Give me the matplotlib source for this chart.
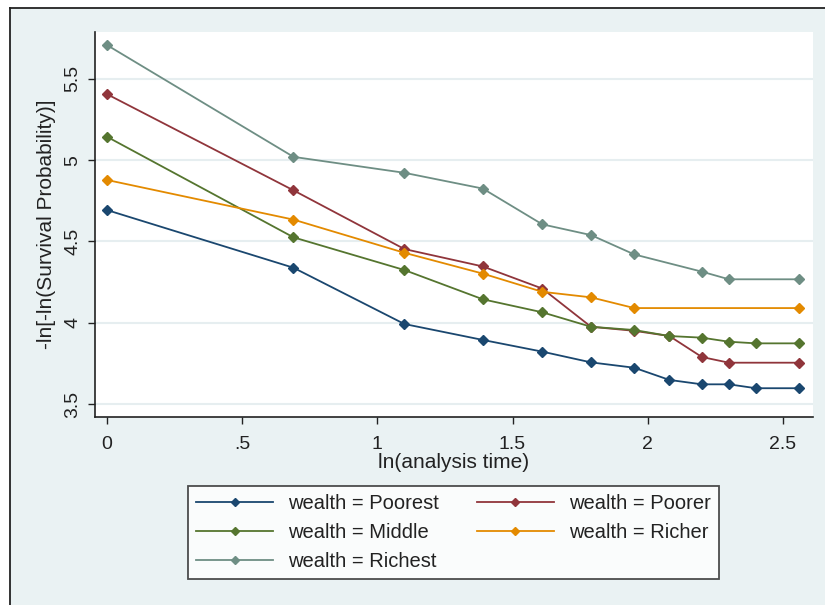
import matplotlib
matplotlib.use("Agg")
import matplotlib.pyplot as plt
from matplotlib.patches import Rectangle
from matplotlib.lines import Line2D

plt.rcParams['font.family'] = ['Liberation Sans', 'DejaVu Sans']

# ln(analysis time) values for each wealth group
x_poorest = [0.0, 0.69, 1.10, 1.39, 1.61, 1.79, 1.95, 2.08, 2.20, 2.30, 2.40, 2.56]
y_poorest = [4.693, 4.338, 3.992, 3.894, 3.822, 3.756, 3.723, 3.648, 3.621, 3.621, 3.597, 3.597]

x_poorer = [0.0, 0.69, 1.10, 1.39, 1.61, 1.79, 1.95, 2.08, 2.20, 2.30, 2.56]
y_poorer = [5.406, 4.814, 4.453, 4.346, 4.210, 3.975, 3.950, 3.918, 3.789, 3.754, 3.754]

x_middle = [0.0, 0.69, 1.10, 1.39, 1.61, 1.79, 1.95, 2.08, 2.20, 2.30, 2.40, 2.56]
y_middle = [5.144, 4.525, 4.324, 4.144, 4.064, 3.975, 3.955, 3.918, 3.908, 3.883, 3.873, 3.873]

x_richer = [0.0, 0.69, 1.10, 1.39, 1.61, 1.79, 1.95, 2.56]
y_richer = [4.878, 4.634, 4.430, 4.302, 4.190, 4.156, 4.090, 4.090]

x_richest = [0.0, 0.69, 1.10, 1.39, 1.61, 1.79, 1.95, 2.20, 2.30, 2.56]
y_richest = [5.708, 5.020, 4.922, 4.825, 4.605, 4.539, 4.420, 4.314, 4.267, 4.267]

labels = ["wealth = Poorest", "wealth = Poorer", "wealth = Middle",
          "wealth = Richer", "wealth = Richest"]
colors = ["#1A476F", "#90353B", "#55752F", "#E38A00", "#6E8E84"]

x_ticks = [0, 0.5, 1, 1.5, 2, 2.5]
x_ticklabels = ["0", ".5", "1", "1.5", "2", "2.5"]
y_ticks = [3.5, 4, 4.5, 5, 5.5]
y_ticklabels = ["3.5", "4", "4.5", "5", "5.5"]

W, H = 825, 605
fig = plt.figure(figsize=(W / 100, H / 100), dpi=100, facecolor="white")

# graph region background with frame on left and top
bg = "#EAF2F3"
fig.patches.append(Rectangle((10 / W, 0), 1 - 10 / W, 1 - 8 / H, transform=fig.transFigure,
                             facecolor=bg, edgecolor="none", zorder=-10))
fig.lines.append(Line2D([10 / W, 10 / W], [0, 1 - 8 / H], transform=fig.transFigure,
                        color="#222222", lw=1.3))
fig.lines.append(Line2D([10 / W, 1], [1 - 8 / H, 1 - 8 / H], transform=fig.transFigure,
                        color="#222222", lw=1.3))

left, right, top, bottom = 95, 813, 32, 417
ax = fig.add_axes([left / W, 1 - bottom / H, (right - left) / W, (bottom - top) / H])
ax.set_facecolor("white")

series = [(x_poorest, y_poorest), (x_poorer, y_poorer), (x_middle, y_middle),
          (x_richer, y_richer), (x_richest, y_richest)]
handles = []
for (xs, ys), c, lab in zip(series, colors, labels):
    h, = ax.plot(xs, ys, color=c, lw=1.3, marker="D", markersize=4.8,
                 markerfacecolor=c, markeredgecolor=c, label=lab, zorder=3)
    handles.append(h)

ax.set_xlim(-0.044, 2.611)
ax.set_ylim(3.42, 5.788)

ax.set_xticks(x_ticks)
ax.set_xticklabels(x_ticklabels)
ax.set_yticks(y_ticks)
ax.set_yticklabels(y_ticklabels, rotation=90, va="center")
ax.tick_params(axis="both", direction="out", length=5, width=1, color="#222222",
               labelsize=14, labelcolor="#222222")
ax.tick_params(axis="x", pad=9)
ax.tick_params(axis="y", pad=5)

ax.grid(axis="y", color="#E6EEF0", lw=1.5, zorder=0)
ax.set_axisbelow(True)

for s in ["top", "right"]:
    ax.spines[s].set_visible(False)
for s in ["left", "bottom"]:
    ax.spines[s].set_color("#222222")
    ax.spines[s].set_linewidth(1.2)

ax.set_xlabel("ln(analysis time)", fontsize=15, color="#222222")
ax.xaxis.label.set_va("center")
ax.xaxis.set_label_coords(0.5, -(463 - bottom) / (bottom - top))
ax.set_ylabel("-ln[-ln(Survival Probability)]", fontsize=15, color="#222222")
ax.yaxis.label.set_va("center")
ax.yaxis.set_label_coords(-(left - 47) / (right - left), 0.5)

order = [0, 2, 4, 1, 3]
leg = fig.legend([handles[i] for i in order], [labels[i] for i in order],
                 loc="upper center", bbox_to_anchor=(453.5 / W, 1 - 486 / H),
                 borderaxespad=0, ncol=2, fontsize=14.5, frameon=True, fancybox=False,
                 handlelength=3.8, handletextpad=0.75, columnspacing=1.9,
                 labelspacing=0.5, borderpad=0.4, markerscale=0.8)
leg.get_frame().set_edgecolor("#222222")
leg.get_frame().set_linewidth(1.3)
leg.get_frame().set_facecolor("white")
for t in leg.get_texts():
    t.set_color("#222222")

fig.savefig("out.png", dpi=100, facecolor=fig.get_facecolor())
